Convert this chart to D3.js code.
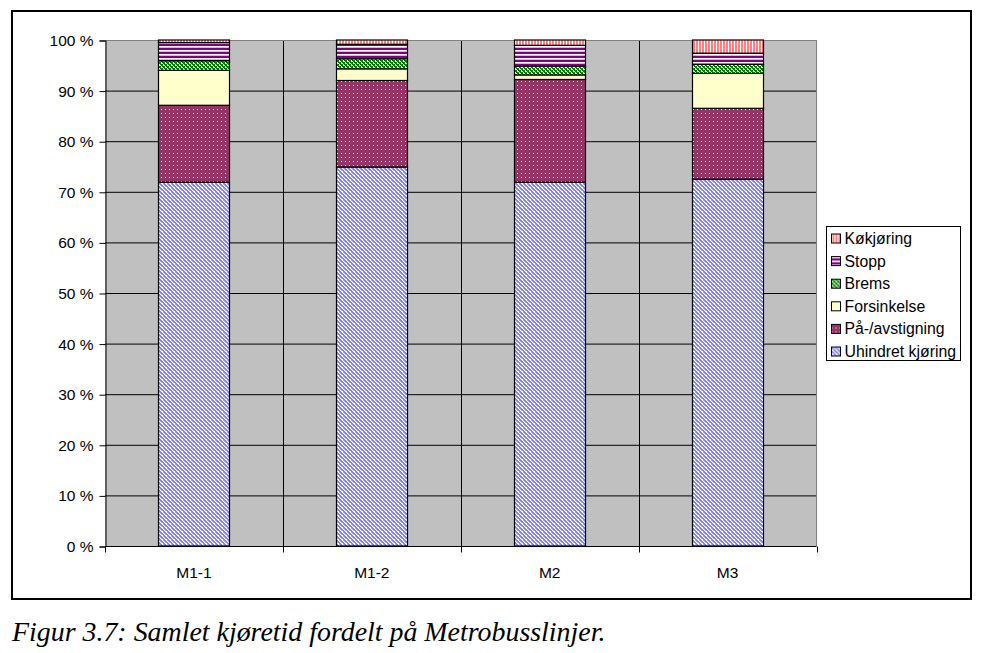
<!DOCTYPE html>
<html><head><meta charset="utf-8">
<script src="https://cdn.jsdelivr.net/npm/d3@7"></script>
<style>body{margin:0;background:#fff;}svg{display:block;}</style>
</head><body>
<svg id="chart" width="994" height="653"></svg>
<script>
const categories = ["M1-1", "M1-2", "M2", "M3"];
const seriesNames = ["Uhindret kjøring", "På-/avstigning", "Forsinkelse", "Brems", "Stopp", "Køkjøring"];
const uhindret   = [71.9, 74.9, 71.9, 72.5];
const paAv       = [15.2, 17.1, 20.3, 14.0];
const forsinkelse= [6.9, 2.3, 0.9, 6.9];
const brems      = [1.9, 2.0, 1.7, 1.8];
const stopp      = [3.6, 2.85, 4.15, 2.2];
const kokjoring  = [0.5, 0.85, 1.05, 2.6];
const yTicks = [0, 10, 20, 30, 40, 50, 60, 70, 80, 90, 100];

const seriesValues = [uhindret, paAv, forsinkelse, brems, stopp, kokjoring];
const data = categories.map((c, i) => {
  const o = {cat: c};
  seriesNames.forEach((s, j) => o[s] = seriesValues[j][i]);
  return o;
});

const svg = d3.select("#chart");
const defs = svg.append("defs");

function pat(id, w, h, bg, cells) {
  const p = defs.append("pattern").attr("id", id).attr("patternUnits", "userSpaceOnUse")
    .attr("width", w).attr("height", h);
  p.append("rect").attr("width", w).attr("height", h).attr("fill", bg);
  cells.forEach(c => p.append("rect").attr("x", c[0]).attr("y", c[1]).attr("width", c[2]).attr("height", c[3]).attr("fill", c[4]));
}
// Uhindret: blue diagonal checker
pat("p0", 4, 4, "#ffffff", [[0,0,2,1,"#8080ff"],[1,1,2,1,"#8080ff"],[2,2,2,1,"#8080ff"],[3,3,1,1,"#8080ff"],[0,3,1,1,"#8080ff"],[3,0,1,1,"#b8b8ff"],[0,1,1,1,"#b8b8ff"],[1,2,1,1,"#b8b8ff"]]);
// På-/avstigning: dark pink with white dots
pat("p1", 4, 4, "#993366", [[1,1,1,1,"#ffffff"]]);
// Forsinkelse: solid
pat("p2", 4, 4, "#ffffcc", []);
// Brems: green checker
pat("p3", 4, 4, "#ffffff", [[0,0,2,1,"#008000"],[1,1,2,1,"#008000"],[2,2,2,1,"#008000"],[3,3,1,1,"#008000"],[0,3,1,1,"#008000"],[2,0,1,1,"#008000"],[0,2,1,1,"#008000"]]);
// Stopp: horizontal purple stripes
pat("p4", 4, 4, "#ffffff", [[0,0,4,2,"#800080"],[0,3,4,1,"#e0b0e0"]]);
// Køkjøring: vertical pink stripes
pat("p5", 3, 3, "#ffffff", [[0,0,2,3,"#ff8080"]]);

const fills = ["url(#p0)", "url(#p1)", "url(#p2)", "url(#p3)", "url(#p4)", "url(#p5)"];
const FONT = "Liberation Sans, Arial, sans-serif";

// outer frame
svg.append("rect").attr("x", 12).attr("y", 11).attr("width", 959).attr("height", 588)
  .attr("fill", "none").attr("stroke", "#000").attr("stroke-width", 2);

const L = 105, R = 816.5, T = 40, B = 546;
const x = d3.scaleBand().domain(categories).range([L, R]).paddingInner(0).paddingOuter(0);
const y = d3.scaleLinear().domain([0, 100]).range([B, T]);

svg.append("rect").attr("x", L).attr("y", T).attr("width", R - L).attr("height", B - T).attr("fill", "#c0c0c0");

// horizontal gridlines
svg.append("g").selectAll("line").data(yTicks.filter(d => d > 0 && d < 100)).join("line")
  .attr("x1", L).attr("x2", R).attr("y1", d => y(d) + 0.5).attr("y2", d => y(d) + 0.5)
  .attr("stroke", "#000").attr("stroke-width", 1);
// vertical gridlines at category boundaries
svg.append("g").selectAll("line").data(categories.slice(1)).join("line")
  .attr("x1", d => Math.round(x(d)) + 0.5).attr("x2", d => Math.round(x(d)) + 0.5).attr("y1", T).attr("y2", B)
  .attr("stroke", "#000").attr("stroke-width", 1);
// plot border: top & right gray
svg.append("line").attr("x1", L).attr("x2", R).attr("y1", T + 0.5).attr("y2", T + 0.5).attr("stroke", "#808080");
svg.append("line").attr("x1", R).attr("x2", R).attr("y1", T).attr("y2", B).attr("stroke", "#808080");

// stacked bars
const stack = d3.stack().keys(seriesNames)(data);
const barW = x.bandwidth() * 0.4;
svg.append("g").selectAll("g").data(stack).join("g")
  .attr("fill", (d, i) => fills[i])
  .selectAll("rect").data(d => d).join("rect")
  .attr("x", d => Math.round(x(d.data.cat) + (x.bandwidth() - barW) / 2) + 0.5)
  .attr("width", Math.round(barW))
  .attr("y", d => y(d[1]))
  .attr("height", d => y(d[0]) - y(d[1]))
  .attr("stroke", "#000").attr("stroke-width", 1.2);

// y axis
const yAxis = d3.axisLeft(y).tickValues(yTicks).tickSize(6).tickFormat(d => d + " %");
const gy = svg.append("g").attr("transform", `translate(${L + 0.5},0.5)`).call(yAxis);
gy.select(".domain").attr("stroke", "#000");
gy.selectAll("text").attr("font-family", FONT).attr("font-size", 15.5).attr("fill", "#000").attr("x", -12);

// x axis
const gx = svg.append("g").attr("transform", `translate(0,${B + 0.5})`);
gx.append("line").attr("x1", L).attr("x2", R).attr("stroke", "#000");
gx.selectAll(".tk").data(categories.concat(["end"])).join("line")
  .attr("x1", (d, i) => Math.round(L + i * x.step()) + 0.5).attr("x2", (d, i) => Math.round(L + i * x.step()) + 0.5)
  .attr("y1", 0).attr("y2", 6).attr("stroke", "#000");
gx.selectAll("text").data(categories).join("text")
  .attr("x", d => x(d) + x.bandwidth() / 2).attr("y", 31)
  .attr("text-anchor", "middle").attr("font-family", FONT).attr("font-size", 15.5)
  .text(d => d);

// legend
const lg = svg.append("g").attr("transform", "translate(826.5,226.5)");
lg.append("rect").attr("width", 134).attr("height", 134).attr("fill", "#fff").attr("stroke", "#000");
const legendOrder = seriesNames.map((s, i) => i).reverse();
legendOrder.forEach((si, k) => {
  const yy = 12 + k * 22.6;
  lg.append("rect").attr("x", 5).attr("y", yy - 4.5).attr("width", 9).attr("height", 9)
    .attr("fill", fills[si]).attr("stroke", "#000").attr("stroke-width", 1);
  lg.append("text").attr("x", 18).attr("y", yy + 5.5).attr("font-family", FONT)
    .attr("font-size", 15.8).text(seriesNames[si]);
});

// caption
svg.append("text").attr("x", 12).attr("y", 641).attr("font-family", "Liberation Serif, Times New Roman, serif")
  .attr("font-style", "italic").attr("font-size", 27.9).text("Figur 3.7: Samlet kjøretid fordelt på Metrobusslinjer.");
</script>
</body></html>
